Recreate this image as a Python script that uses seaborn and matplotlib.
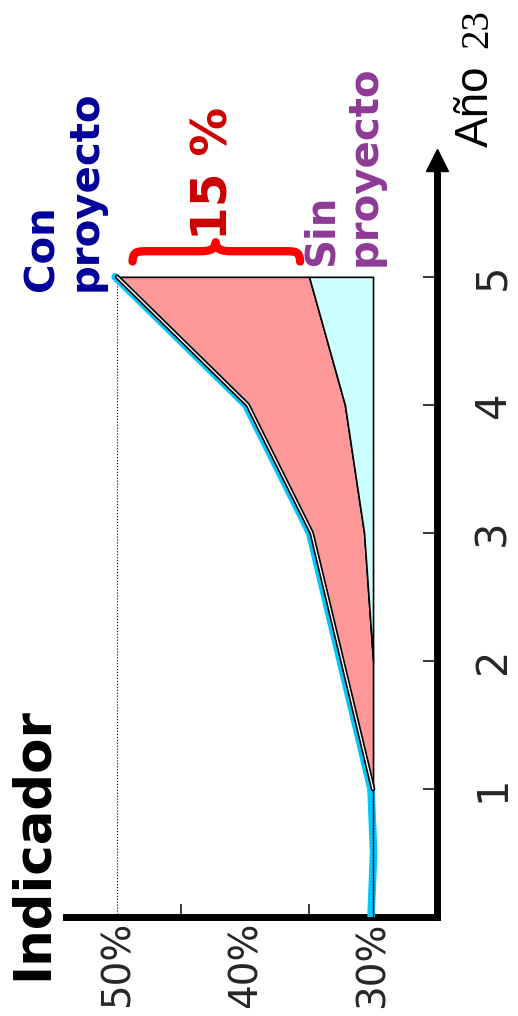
import matplotlib
matplotlib.use("Agg")
import matplotlib.pyplot as plt
import matplotlib.transforms as mtransforms
from matplotlib.path import Path
from matplotlib.patches import PathPatch
import seaborn as sns

# values: year on one axis, indicator (%) on the other
years_before = [0, 0.5, 1]
con_before = [30.0, 29.8, 30.0]
years = [1, 2, 3, 4, 5]
con_proyecto = [30.0, 32.4, 34.8, 39.8, 50.0]
sin_proyecto = [30.0, 30.0, 30.7, 32.2, 35.0]
base_value = 30.0
year_ticks = [1, 2, 3, 4, 5]
pct_ticks = [30, 40, 50]
pct_minor = [35, 40, 45]
gap_text = "15 %"

PINK = "#FF9999"
LIGHT_CYAN = "#CCFFFF"
CYAN = "#00C8F8"
BLUE = "#000099"
PURPLE = "#8E3A96"
RED_TXT = "#CC0000"
RED = "#FF0000"

sns.set_theme(style="white")
plt.rcParams["font.family"] = ["DejaVu Sans"]

fig = plt.figure(figsize=(5.18, 10.16), dpi=100)
ax = fig.add_axes([66 / 518, 99 / 1016, 371 / 518, 749 / 1016])

# filled areas (chart is drawn turned on its side: x = indicator, y = year)
gap_years = years[1:]
ax.fill_betweenx(years, con_proyecto, sin_proyecto, facecolor=PINK,
                 edgecolor="black", lw=1.2, zorder=2)
ax.fill_betweenx(gap_years, sin_proyecto[1:], [base_value] * len(gap_years),
                 facecolor=LIGHT_CYAN, edgecolor="black", lw=1.2, zorder=2)

# dotted reference line at the final value
ax.plot([con_proyecto[-1]] * 2, [0, years[-1]], ls=":", lw=0.8, color="black", zorder=3)

# cyan "con proyecto" line, nudged a bit to the side like the original
shift = mtransforms.offset_copy(ax.transData, fig=fig, x=-2, y=0, units="dots")
sns.lineplot(x=con_before + con_proyecto[1:], y=years_before + years[1:], orient="y",
             sort=False, estimator=None, color=CYAN, lw=5.5, ax=ax, zorder=4,
             transform=shift, solid_joinstyle="round")
ax.plot([base_value, base_value], [years_before[0], years[0]], color="#800080", lw=1.0, zorder=5)
ax.plot([base_value, base_value], [years_before[0], years[0]], ls=":", lw=0.8,
        color="black", zorder=6)

# black double line on top
sns.lineplot(x=con_proyecto, y=years, orient="y", sort=False, estimator=None,
             color="black", lw=3.4, ax=ax, zorder=7)
sns.lineplot(x=con_proyecto, y=years, orient="y", sort=False, estimator=None,
             color="white", lw=1.0, ax=ax, zorder=8)

ax.set_xlim(54, 25)
ax.set_ylim(0, 5.85)
ax.set_xlabel("")
ax.set_ylabel("")

for side in ["top", "left"]:
    ax.spines[side].set_visible(False)
for side in ["right", "bottom"]:
    ax.spines[side].set_visible(True)
    ax.spines[side].set_linewidth(5)
    ax.spines[side].set_color("black")

# arrow head on the year axis
ax.plot([25], [5.91], marker="^", markersize=16.5, color="black", clip_on=False, zorder=10)

ax.set_xticks(pct_ticks)
ax.set_xticklabels([f"{p}%" for p in pct_ticks])
ax.set_xticks(pct_minor, minor=True)
ax.tick_params(axis="x", which="major", length=0, pad=3, labelsize=28, rotation=90)
ax.tick_params(axis="x", which="minor", direction="in", length=9.5, width=1.1,
               color="black", bottom=True)

ax.yaxis.tick_right()
ax.set_yticks(year_ticks)
ax.set_yticklabels([str(y) for y in year_ticks])
ax.tick_params(axis="y", which="major", direction="in", length=10, width=1.1,
               color="black", right=True, pad=25, labelsize=30, rotation=90)
for lab in ax.get_yticklabels():
    lab.set_va("center")

# curly brace over the 15 % gap
L, R = con_proyecto[-1] - 1.2, sin_proyecto[-1] + 0.7
M = 42.3
yb, ym, yt = 5.12, 5.2, 5.27
verts = [(L, yb), (L - 0.05, ym), (L - 0.3, ym), (L - 1.3, ym),
         (M + 1.3, ym),
         (M + 0.5, ym), (M + 0.05, ym + 0.01), (M, yt),
         (M - 0.05, ym + 0.01), (M - 0.5, ym), (M - 1.3, ym),
         (R + 1.3, ym),
         (R + 0.3, ym), (R + 0.05, ym), (R, yb)]
codes = [Path.MOVETO, Path.CURVE4, Path.CURVE4, Path.CURVE4,
         Path.LINETO,
         Path.CURVE4, Path.CURVE4, Path.CURVE4,
         Path.CURVE4, Path.CURVE4, Path.CURVE4,
         Path.LINETO,
         Path.CURVE4, Path.CURVE4, Path.CURVE4]
ax.add_patch(PathPatch(Path(verts, codes), facecolor="none", edgecolor=RED, lw=6,
                       capstyle="round", joinstyle="round", clip_on=False, zorder=9))

# texts
fig.text(64 / 518, (1016 - 291) / 1016, "Con\nproyecto", rotation=90, ha="center",
         va="bottom", color=BLUE, fontsize=29, fontweight="bold", multialignment="left",
         linespacing=1.1)
fig.text(343 / 518, (1016 - 266) / 1016, "Sin\nproyecto", rotation=90, ha="center",
         va="bottom", color=PURPLE, fontsize=29, fontweight="bold", multialignment="left",
         linespacing=1.1)
fig.text(214 / 518, (1016 - 173) / 1016, gap_text, rotation=90, ha="center", va="center",
         color=RED_TXT, fontsize=35, fontweight="bold")
fig.text(8 / 518, (1016 - 980) / 1016, "Indicador", rotation=90, ha="left", va="bottom",
         color="black", fontsize=37, fontweight="bold")
fig.text(476 / 518, (1016 - 147) / 1016, "Año", rotation=90, ha="center", va="bottom",
         color="black", fontsize=33, family=["Liberation Sans", "DejaVu Sans"])
fig.text(478 / 518, (1016 - 48) / 1016, "23", rotation=90, ha="center", va="bottom",
         color="black", fontsize=28, family=["Liberation Serif", "DejaVu Serif"])

fig.savefig("out.png", dpi=100, facecolor="white")
